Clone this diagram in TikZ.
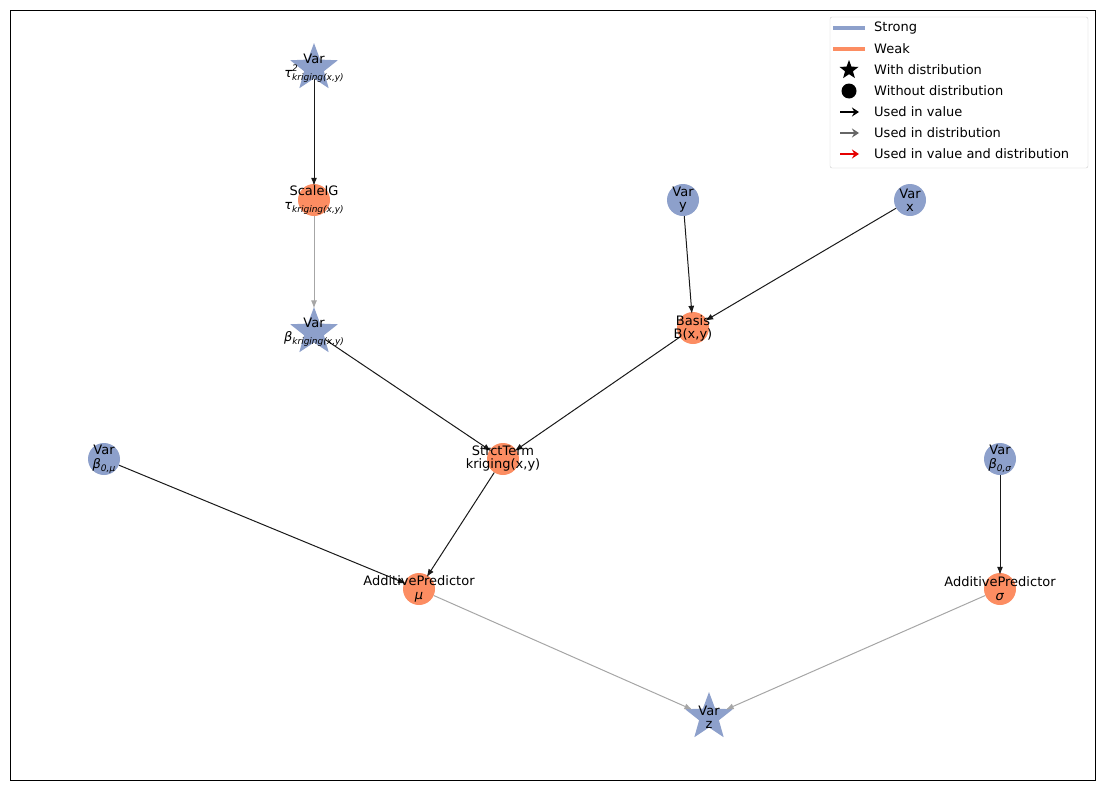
\documentclass[tikz,border=0pt]{standalone}
\usepackage{fontspec}
\setmainfont{DejaVu Sans}
\usetikzlibrary{shapes.geometric,arrows.meta}
\definecolor{sb}{HTML}{8DA0CB}
\definecolor{wo}{HTML}{FC8D62}
\newcommand{\sbs}[3]{\textit{#1}\rlap{\raisebox{0.45em}{\fontsize{9}{9}\selectfont\textit{#2}}}\raisebox{-0.25em}{\fontsize{9}{9}\selectfont\textit{#3}}}
\begin{document}
\begin{tikzpicture}[x=1pt,y=-1pt,
  every node/.style={font=\fontsize{13}{15}\selectfont},
  cn/.style={circle,fill=#1,minimum size=32pt,inner sep=0pt},
  sn/.style={star,star points=5,star point ratio=2.4,fill=#1,minimum size=50pt,inner sep=0pt},
  lab/.style={align=center,inner sep=0pt},
  val/.style={draw=black!90,line width=1pt,-{Latex[length=8pt,width=6pt]},shorten >=-2pt},
  dist/.style={draw=black!35,line width=1pt,-{Latex[length=8pt,width=6pt]},shorten >=-2pt}]
\useasboundingbox (0,0) rectangle (1105,790);
\draw[line width=0.8pt] (10,10) rectangle (1095,780);
% nodes
\node[sn=sb] (t2) at (314,68) {};
\node[cn=wo] (sig) at (314,200) {};
\node[sn=sb] (bk) at (314,332) {};
\node[cn=sb] (vy) at (683,200) {};
\node[cn=sb] (vx) at (910,200) {};
\node[cn=wo] (bs) at (693,328) {};
\node[cn=wo] (st) at (503,459) {};
\node[cn=sb] (b0m) at (104,459) {};
\node[cn=sb] (b0s) at (1000,459) {};
\node[cn=wo] (apm) at (419,589) {};
\node[cn=wo] (aps) at (1000,589) {};
\node[sn=sb] (z) at (709,717) {};
% edges
\draw[val] (t2) -- (sig);
\draw[dist] (sig) -- (bk);
\draw[val] (vy) -- (bs);
\draw[val] (vx) -- (bs);
\draw[val] (bk) -- (st);
\draw[val] (bs) -- (st);
\draw[val] (b0m) -- (apm);
\draw[val] (st) -- (apm);
\draw[val] (b0s) -- (aps);
\draw[dist] (apm) -- (z);
\draw[dist] (aps) -- (z);
% labels
\node[lab] at (314,68) {Var\\[-1pt]\sbs{τ}{2}{kriging(x,y)}};
\node[lab] at (314,200) {ScaleIG\\[-1pt]\sbs{τ}{}{kriging(x,y)}};
\node[lab] at (314,332) {Var\\[-1pt]\sbs{β}{}{kriging(x,y)}};
\node[lab] at (683,200) {Var\\[-2pt]y};
\node[lab] at (910,200) {Var\\[-2pt]x};
\node[lab] at (693,328) {Basis\\[-2pt]B(x,y)};
\node[lab] at (503,459) {StrctTerm\\[-2pt]kriging(x,y)};
\node[lab] at (104,459) {Var\\[-1pt]\sbs{β}{}{0,μ}};
\node[lab] at (1000,459) {Var\\[-1pt]\sbs{β}{}{0,σ}};
\node[lab] at (419,589) {AdditivePredictor\\[-1pt]\textit{μ}};
\node[lab] at (1000,589) {AdditivePredictor\\[-1pt]\textit{σ}};
\node[lab] at (709,717) {Var\\[-2pt]z};
% legend
\draw[black!20,fill=white,rounded corners=2pt] (830,17) rectangle (1088,168);
\draw[sb,line width=4pt] (833,28) -- (865,28);
\draw[wo,line width=4pt] (833,49) -- (865,49);
\node[star,star points=5,star point ratio=2.4,fill=black,minimum size=20pt,inner sep=0pt] at (849,70) {};
\node[circle,fill=black,minimum size=15pt,inner sep=0pt] at (849,91) {};
\draw[black,line width=2.5pt,-{Stealth[length=7pt,width=9pt]}] (840,112) -- (859,112);
\draw[black!60,line width=1.5pt,-{Stealth[length=7pt,width=9pt]}] (840,133) -- (859,133);
\draw[red!90!black,line width=2.5pt,-{Stealth[length=7pt,width=9pt]}] (840,154) -- (859,154);
\node[anchor=west,inner sep=0pt] (l1) at (874,28) {Strong};
\node[anchor=west,inner sep=0pt] (l2) at (874,49) {Weak};
\node[anchor=west,inner sep=0pt] (l3) at (874,70) {With distribution};
\node[anchor=west,inner sep=0pt] (l4) at (874,91) {Without distribution};
\node[anchor=west,inner sep=0pt] (l5) at (874,112) {Used in value};
\node[anchor=west,inner sep=0pt] (l6) at (874,133) {Used in distribution};
\node[anchor=west,inner sep=0pt] (l7) at (874,154) {Used in value and distribution};
\end{tikzpicture}
\end{document}
